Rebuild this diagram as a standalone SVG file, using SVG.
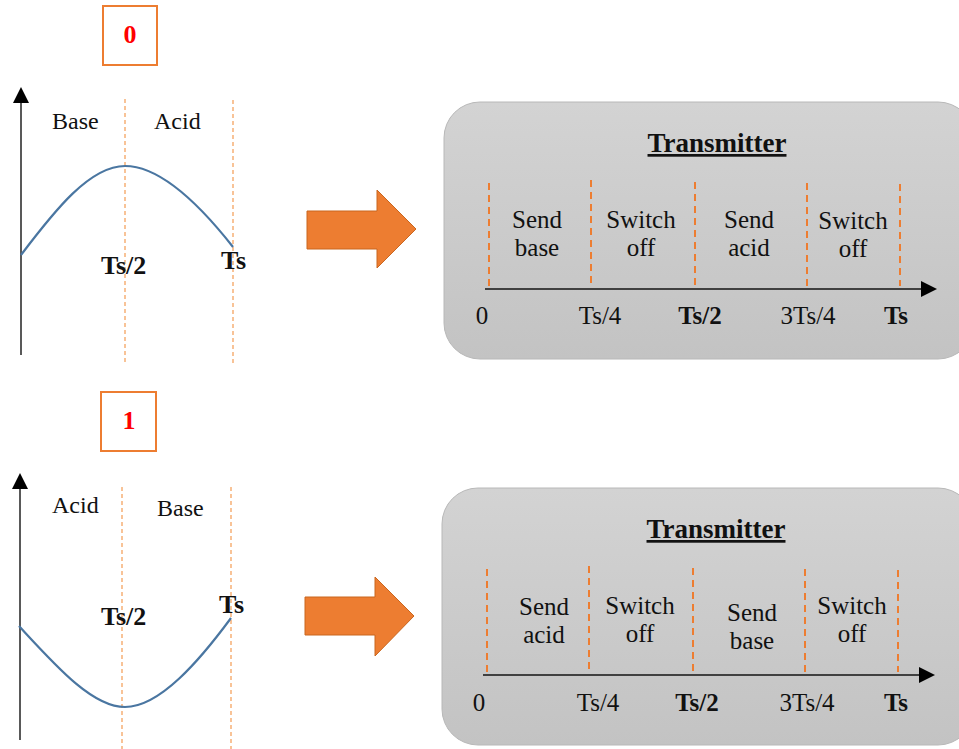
<svg xmlns="http://www.w3.org/2000/svg" width="959" height="749" viewBox="0 0 959 749">
<style>
  .serif { font-family: "Liberation Serif", "Times New Roman", serif; fill: #111; }
  .lbl { font-size: 24px; }
  .blbl { font-size: 26px; font-weight: bold; }
  .seg { font-size: 25px; text-anchor: middle; }
  .tick { font-size: 25px; text-anchor: middle; }
  .btick { font-size: 25px; font-weight: bold; text-anchor: middle; }
  .title { font-size: 27px; font-weight: bold; text-anchor: middle; text-decoration: underline; }
  .bitbox { fill: #fff; stroke: #ED7D31; stroke-width: 2; }
  .bit { font-size: 26px; font-weight: bold; fill: #FF0000; text-anchor: middle; }
  .yaxis { stroke: #222; stroke-width: 1.5; fill: none; }
  .gdash { stroke: #F4A460; stroke-width: 1.3; stroke-dasharray: 4 3; fill: none; }
  .curve { stroke: #4A76A1; stroke-width: 2.2; fill: none; }
  .panel { fill: url(#panelGrad); stroke: #b8b8b8; stroke-width: 1; }
  .tdash { stroke: #ED7D31; stroke-width: 2; stroke-dasharray: 7 5; fill: none; }
  .taxis { stroke: #404040; stroke-width: 2; fill: none; }
  .bigarrow { fill: #ED7D31; stroke: #C9661F; stroke-width: 1; }
</style>
<defs>
  <linearGradient id="panelGrad" x1="0" y1="0" x2="0" y2="1">
    <stop offset="0" stop-color="#d3d3d3"/>
    <stop offset="1" stop-color="#c3c3c3"/>
  </linearGradient>
</defs>

<!-- Bit 0 -->
<g id="bit0">
  <rect class="bitbox" x="103" y="6" width="54" height="59"/>
  <text class="serif bit" x="130" y="43">0</text>
</g>

<!-- Waveform for bit 0 -->
<g id="graph0">
  <line class="yaxis" x1="21" y1="355" x2="21" y2="100"/>
  <path d="M21,87 L29,103 L13,103 Z" fill="#000"/>
  <line class="gdash" x1="125" y1="99" x2="125" y2="363"/>
  <line class="gdash" x1="233" y1="100" x2="233" y2="363"/>
  <path class="curve" d="M21,255 C55,210 90,166 125,166 C160,166 200,205 233,247"/>
  <text class="serif lbl" x="52" y="129">Base</text>
  <text class="serif lbl" x="154" y="129">Acid</text>
  <text class="serif blbl" x="101" y="274">Ts/2</text>
  <text class="serif blbl" x="221" y="269">Ts</text>
</g>

<!-- Transmitter for bit 0 -->
<g id="tx0">
  <rect class="panel" x="444" y="102" width="530" height="257" rx="36" ry="36"/>
  <text class="serif title" x="717" y="152">Transmitter</text>
  <line class="tdash" x1="489" y1="183" x2="489" y2="286"/>
  <line class="tdash" x1="591" y1="180" x2="591" y2="286"/>
  <line class="tdash" x1="695" y1="182" x2="695" y2="286"/>
  <line class="tdash" x1="807" y1="183" x2="807" y2="286"/>
  <line class="tdash" x1="900" y1="184" x2="900" y2="286"/>
  <line class="taxis" x1="485" y1="289" x2="924" y2="289"/>
  <path d="M937,289 L921,281 L921,297 Z" fill="#000"/>
  <text class="serif seg" x="537" y="228">Send</text>
  <text class="serif seg" x="537" y="256">base</text>
  <text class="serif seg" x="641" y="228">Switch</text>
  <text class="serif seg" x="641" y="256">off</text>
  <text class="serif seg" x="749" y="228">Send</text>
  <text class="serif seg" x="749" y="256">acid</text>
  <text class="serif seg" x="853" y="229">Switch</text>
  <text class="serif seg" x="853" y="257">off</text>
  <text class="serif tick" x="482" y="324">0</text>
  <text class="serif tick" x="600" y="324">Ts/4</text>
  <text class="serif btick" x="700" y="324">Ts/2</text>
  <text class="serif tick" x="808" y="324">3Ts/4</text>
  <text class="serif btick" x="896" y="324">Ts</text>
</g>

<!-- Bit 1 -->
<g id="bit1">
  <rect class="bitbox" x="101" y="392" width="55" height="59"/>
  <text class="serif bit" x="129" y="429">1</text>
</g>

<!-- Waveform for bit 1 -->
<g id="graph1">
  <line class="yaxis" x1="20" y1="740" x2="20" y2="486"/>
  <path d="M20,473 L28,489 L12,489 Z" fill="#000"/>
  <line class="gdash" x1="122" y1="487" x2="122" y2="749"/>
  <line class="gdash" x1="231" y1="487" x2="231" y2="749"/>
  <path class="curve" d="M19,626 C55,665 92,707 125,707 C160,707 200,660 231,618"/>
  <text class="serif lbl" x="52" y="513">Acid</text>
  <text class="serif lbl" x="157" y="516">Base</text>
  <text class="serif blbl" x="101" y="625">Ts/2</text>
  <text class="serif blbl" x="219" y="613">Ts</text>
</g>

<!-- Transmitter for bit 1 -->
<g id="tx1">
  <rect class="panel" x="442" y="488" width="532" height="257" rx="36" ry="36"/>
  <text class="serif title" x="716" y="538">Transmitter</text>
  <line class="tdash" x1="487" y1="569" x2="487" y2="672"/>
  <line class="tdash" x1="589" y1="566" x2="589" y2="672"/>
  <line class="tdash" x1="693" y1="568" x2="693" y2="672"/>
  <line class="tdash" x1="805" y1="569" x2="805" y2="672"/>
  <line class="tdash" x1="898" y1="570" x2="898" y2="672"/>
  <line class="taxis" x1="483" y1="675" x2="922" y2="675"/>
  <path d="M935,675 L919,667 L919,683 Z" fill="#000"/>
  <text class="serif seg" x="544" y="615">Send</text>
  <text class="serif seg" x="544" y="643">acid</text>
  <text class="serif seg" x="640" y="614">Switch</text>
  <text class="serif seg" x="640" y="642">off</text>
  <text class="serif seg" x="752" y="621">Send</text>
  <text class="serif seg" x="752" y="649">base</text>
  <text class="serif seg" x="852" y="614">Switch</text>
  <text class="serif seg" x="852" y="642">off</text>
  <text class="serif tick" x="479" y="711">0</text>
  <text class="serif tick" x="598" y="711">Ts/4</text>
  <text class="serif btick" x="697" y="711">Ts/2</text>
  <text class="serif tick" x="807" y="711">3Ts/4</text>
  <text class="serif btick" x="896" y="711">Ts</text>
</g>

<!-- Connectors: block arrows -->
<g id="connectors">
  <path class="bigarrow" d="M307,211 L377,211 L377,190 L416,229 L377,268 L377,249 L307,249 Z"/>
  <path class="bigarrow" d="M305,597 L375,597 L375,577 L414,616 L375,656 L375,635 L305,635 Z"/>
</g>
</svg>
